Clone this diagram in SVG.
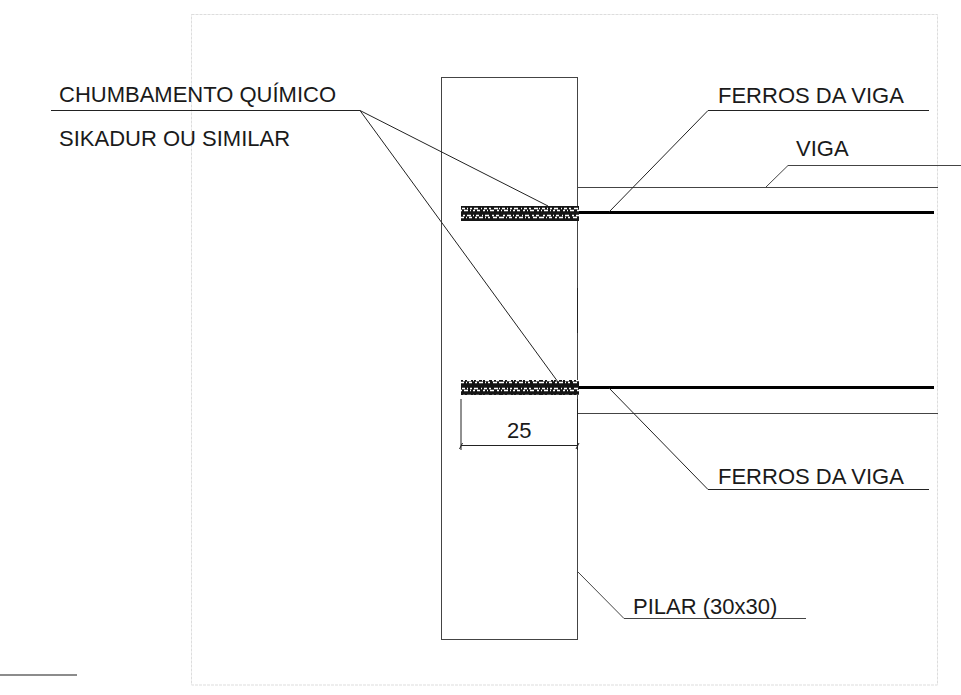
<svg xmlns="http://www.w3.org/2000/svg" width="961" height="695" viewBox="0 0 961 695">
<style>
.l{fill:none;stroke:#222;stroke-width:1}
.g{fill:none;stroke:#444;stroke-width:1}
.b{fill:none;stroke:#000;stroke-width:3}
.t{font-family:"Liberation Sans",Arial,sans-serif;font-size:22px;fill:#1a1a1a}
.h{fill:url(#grout)}
</style>
<defs>
<pattern id="grout" x="461" y="206" width="40" height="15" patternUnits="userSpaceOnUse">
<rect width="40" height="15" fill="#151515"/>
<path d="M1 2.500h3M6 2.500h1M9 2.500h2M13 2.500h4M20 2.500h1M23 2.500h3M28 2.500h2M33 2.500h4M38 2.500h1M0 4.500h1M3 4.500h4M9 4.500h1M12 4.500h2M16 4.500h3M22 4.500h2M26 4.500h1M29 4.500h4M36 4.500h2M2 9.500h2M6 9.500h4M12 9.500h1M15 9.500h3M21 9.500h1M24 9.500h4M31 9.500h2M35 9.500h3M0 11.500h3M5 11.500h1M8 11.500h3M14 11.500h2M18 11.500h4M24 11.500h1M27 11.500h2M32 11.500h4M38 11.500h2" stroke="#fff" stroke-width="1.400" fill="none"/>
</pattern>
</defs>
<rect id="frame" x="191.500" y="14.500" width="746" height="670.500" fill="none" stroke="#ddd" stroke-width="1" stroke-dasharray="3 1"/>
<line x1="0" y1="675" x2="77" y2="675" stroke="#666" stroke-width="1.500"/>
<g id="pilar"><rect class="g" x="441.500" y="77.500" width="136" height="562"/></g>
<g id="chumbamento-top"><rect class="h" x="461" y="206" width="118" height="15"/></g>
<g id="chumbamento-bottom"><rect class="h" x="461" y="380" width="118" height="15"/></g>
<g id="connectors">
<path class="b" d="M579 212.500H934M579 387.500H934"/>
<path class="g" d="M578 187.500H938M578 413.500H938"/>
<path class="l" d="M51 110.500H360L548 206M360 110.500L558 382"/>
<path class="l" d="M609 212L708 110.500H929"/>
<path class="g" d="M766 187L788 165.500H961"/>
<path class="l" d="M609 388L708 489.500H929"/>
<path class="g" d="M578 572L624 618.500H806"/>
<path class="l" d="M461 399V450M461 445.500H578M577.500 288V333M577.500 399V450"/>
<path class="l" d="M459.500 449L462.500 443M576 449L579 443"/>
</g>
<g id="labels">
<text class="t" x="59" y="102">CHUMBAMENTO QUÍMICO</text>
<text class="t" x="59" y="146">SIKADUR OU SIMILAR</text>
<text class="t" x="718" y="103">FERROS DA VIGA</text>
<text class="t" x="796" y="156">VIGA</text>
<text class="t" x="718" y="484">FERROS DA VIGA</text>
<text class="t" x="633" y="614">PILAR (30x30)</text>
<text class="t" x="507" y="438">25</text>
</g>
</svg>
